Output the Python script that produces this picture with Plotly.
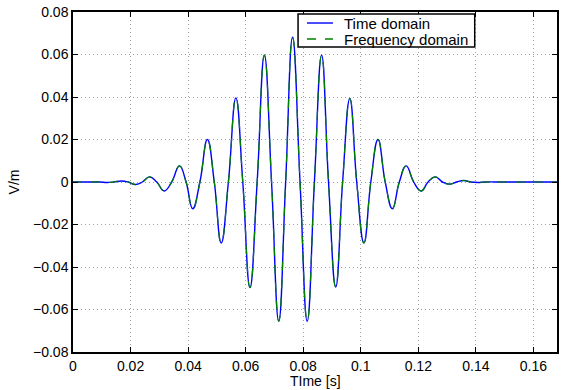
import plotly.graph_objects as go

# Time samples (s) at extrema and zero crossings
t = [0.0, 0.005, 0.0093, 0.0118, 0.0142, 0.0168, 0.0192, 0.0216, 0.0241, 0.0266,
     0.0291, 0.0317, 0.0343, 0.0370, 0.0393, 0.0416, 0.0441, 0.0467, 0.0491, 0.0515,
     0.0540, 0.0566, 0.0590, 0.0615, 0.0640, 0.0665, 0.0690, 0.0715, 0.0739, 0.0763,
     0.0789, 0.0814, 0.0839, 0.0864, 0.0888, 0.0913, 0.0937, 0.0962, 0.0986, 0.1011,
     0.1035, 0.1060, 0.1085, 0.1110, 0.1134, 0.1158, 0.1184, 0.1210, 0.1234, 0.1259,
     0.1284, 0.1309, 0.1333, 0.1358, 0.1383, 0.1408, 0.1433, 0.1500, 0.1682]

# Field values (V/m), time-domain result
v_time = [0.0, 0.0, 0.0, -0.0002, 0.0, 0.0005, 0.0, -0.0012, 0.0, 0.0024,
          0.0, -0.0042, 0.0, 0.0076, 0.0, -0.0126, 0.0, 0.0200, 0.0, -0.0287,
          0.0, 0.0396, 0.0, -0.0497, 0.0, 0.0597, 0.0, -0.0655, 0.0, 0.0681,
          0.0, -0.0655, 0.0, 0.0597, 0.0, -0.0494, 0.0, 0.0393, 0.0, -0.0287,
          0.0, 0.0200, 0.0, -0.0126, 0.0, 0.0076, 0.0, -0.0042, 0.0, 0.0024,
          0.0, -0.0010, 0.0, 0.0007, 0.0, -0.0002, 0.0, 0.0, 0.0]

# Frequency-domain result coincides with the time-domain one in the picture
v_freq = list(v_time)

series_names = ["Time domain", "Frequency domain"]
series_colors = ["#0000ff", "#008000"]

x_ticks = [0, 0.02, 0.04, 0.06, 0.08, 0.1, 0.12, 0.14, 0.16]
x_tick_labels = ["0", "0.02", "0.04", "0.06", "0.08", "0.1", "0.12", "0.14", "0.16"]
y_ticks = [-0.08, -0.06, -0.04, -0.02, 0, 0.02, 0.04, 0.06, 0.08]
y_tick_labels = ["\u22120.08", "\u22120.06", "\u22120.04", "\u22120.02", "0",
                 "0.02", "0.04", "0.06", "0.08"]

FONT = "Liberation Sans, Arial, Helvetica, sans-serif"

fig = go.Figure()
fig.add_trace(go.Scatter(x=t, y=v_time, mode="lines", name=series_names[0], showlegend=False,
                         line=dict(color=series_colors[0], width=1.4, shape="spline",
                                   smoothing=1.3)))
fig.add_trace(go.Scatter(x=t, y=v_freq, mode="lines", name=series_names[1], showlegend=False,
                         line=dict(color=series_colors[1], width=1.2, dash="dash",
                                   shape="spline", smoothing=1.3)))

axis_common = dict(
    showline=True, linecolor="black", linewidth=1.5, mirror="allticks",
    ticks="inside", ticklen=5, tickcolor="black", tickwidth=1,
    showgrid=True, gridcolor="#a0a0a0", gridwidth=1, griddash="1px,3px",
    zeroline=False, tickfont=dict(family=FONT, size=14, color="black"),
    ticklabeloverflow="allow", automargin=False,
)

fig.update_xaxes(range=[0, 0.1682], tickvals=x_ticks, ticktext=x_tick_labels, **axis_common)
fig.update_yaxes(range=[-0.08, 0.08], tickvals=y_ticks, ticktext=y_tick_labels,
                 title=dict(text="V/m", font=dict(family=FONT, size=14, color="black"),
                            standoff=10),
                 **axis_common)

# x-axis title placed as an annotation just under the tick labels
fig.add_annotation(text="TIme [s]", xref="paper", yref="paper", x=0.5, y=0,
                   xanchor="center", yanchor="top", yshift=-19, showarrow=False,
                   font=dict(family=FONT, size=14, color="black"))

# Compact MATLAB-style legend box (paper coordinates)
fig.add_shape(type="rect", xref="paper", yref="paper", x0=0.465, x1=0.830, y0=0.897, y1=0.994,
              fillcolor="white", line=dict(color="black", width=1.5), layer="above")
legend_rows_y = [0.9676, 0.9205]
legend_dash = ["solid", "dash"]
for name, color, ly, dash in zip(series_names, series_colors, legend_rows_y, legend_dash):
    fig.add_shape(type="line", xref="paper", yref="paper", x0=0.4834, x1=0.5371, y0=ly, y1=ly,
                  line=dict(color=color, width=1.4, dash=dash), layer="above")
    fig.add_annotation(text=name, xref="paper", yref="paper", x=0.5557, y=ly,
                       xanchor="left", yanchor="middle", showarrow=False,
                       font=dict(family=FONT, size=15, color="black"))

fig.update_layout(
    width=561, height=390,
    margin=dict(l=73, r=4, t=12, b=38),
    paper_bgcolor="white", plot_bgcolor="white",
    font=dict(family=FONT, size=14, color="black"),
    showlegend=False,
)

# Remove the page's default body margin so the figure sits at the window origin
fig.write_html("out.html",
               config={"displayModeBar": False},
               post_script="document.body.style.margin='0px';"
                           "document.body.style.overflow='hidden';")
